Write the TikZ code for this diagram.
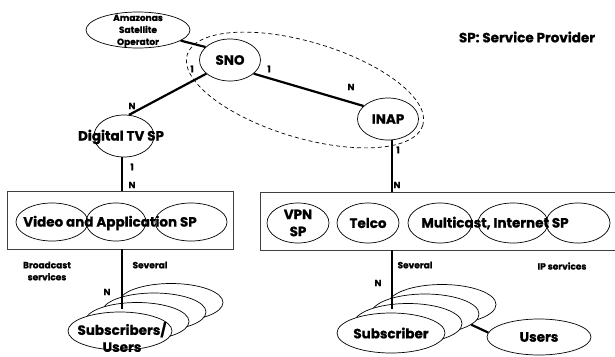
\documentclass[tikz,border=0pt]{standalone}
\usepackage{fontspec}
\newfontfamily\fut{Poppins}[BoldFeatures={FakeBold=0.8}]
\usetikzlibrary{shapes.geometric}
\tikzset{
  big/.style={font=\fut\bfseries\fontsize{13.5}{17}\selectfont, inner sep=0pt},
  small/.style={font=\fut\bfseries\fontsize{9}{12}\selectfont, inner sep=0pt},
  oval/.style={ellipse, draw, line width=0.7pt, inner sep=0pt, fill=white},
  thickline/.style={line width=2.2pt},
  boxline/.style={draw=black!75, line width=1pt},
}
\begin{document}
\begin{tikzpicture}[x=1pt,y=-1pt]
\useasboundingbox (0,0) rectangle (615,356);
% dashed grouping ellipse
\draw[dash pattern=on 4pt off 3pt, line width=0.7pt, rotate around={-16.6:(305,90)}] (305,90) ellipse [x radius=123, y radius=48];
% top nodes
\node[oval, minimum width=104, minimum height=36] (ama) at (138,30) {};
\node[small, align=center] (amat) at (138,31) {Amazonas\\Satellite\\Operator};
\node[oval, minimum width=61, minimum height=42] (sno) at (230,60) {};
\node[big] (snot) at (sno.center) {SNO};
\node[oval, minimum width=61, minimum height=42] (inap) at (388,119) {};
\node[big] (inapt) at (inap.center) {INAP};
\node[oval, minimum width=60, minimum height=42] (dtv) at (124,136) {};
\node[big] (dtvt) at (121,137) {Digital TV SP};
\node[big] (sp) at (527,37) {SP: Service Provider};
% connectors at top
\draw[thickline] (ama.346) -- (sno.152);
\draw[thickline] (sno.210) -- (dtv.77);
\draw[thickline] (sno.330) -- (inap.152);
\node[small] (l1) at (192,69) {1};
\node[small] (l2) at (132,106) {N};
\node[small] (l3) at (269,69) {1};
\node[small] (l4) at (351,87) {N};
% left box
\draw[boxline] (7,191) rectangle (233,249);
\coordinate (lboxtop) at (122,191);
\coordinate (lboxbot) at (122,249);
\node[oval, minimum width=72, minimum height=38, fill=none] (v1) at (52,222) {};
\node[oval, minimum width=60, minimum height=38, fill=none] (v2) at (116,222) {};
\node[oval, minimum width=72, minimum height=38, fill=none] (v3) at (191,222) {};
\node[big] (vt) at (110,223) {Video and Application SP};
% right box (open on the right)
\draw[boxline] (615,192) -- (260,192) -- (260,250) -- (615,250);
\coordinate (rboxtop) at (392,192);
\coordinate (rboxbot) at (392,250);
\node[oval, minimum width=62, minimum height=40, fill=none] (vpn) at (298,223) {};
\node[big, align=center] (vpnt) at (vpn.center) {VPN\\SP};
\node[oval, minimum width=62, minimum height=40, fill=none] (telco) at (368,223) {};
\node[big] (telcot) at (telco.center) {Telco};
\node[oval, minimum width=64, minimum height=40, fill=none] (m1) at (440,223) {};
\node[oval, minimum width=70, minimum height=40, fill=none] (m2) at (513,223) {};
\node[oval, minimum width=64, minimum height=40, fill=none] (m3) at (578,223) {};
\node[big] (mt) at (495,223) {Multicast, Internet SP};
% vertical connectors
\draw[thickline] (dtv.south -| lboxtop) -- (lboxtop);
\draw[thickline] (inap.south -| rboxtop) -- (rboxtop);
\node[small] (l5) at (132,167) {1};
\node[small] (l6) at (132,185) {N};
\node[small] (l7) at (398,150) {1};
\node[small] (l8) at (397,185) {N};
% left subscriber stack
\foreach \k in {3,2,1} {
  \node[oval, minimum width=104, minimum height=38] (ls\k) at ({120+17*\k},{331-9.5*\k}) {};
}
\node[oval, minimum width=104, minimum height=38] (ls0) at (120,331) {};
\coordinate (lend) at (122,309);
\draw[thickline] (lboxbot) -- (lend);
\node[big, align=center] (lst) at (122,337) {Subscribers/\\Users};
\node[small] (sev1) at (150,265) {Several};
\node[small] (n1) at (107,292) {N};
\node[small, align=center] (bc) at (47,271) {Broadcast\\services};
% right subscriber stack
\foreach \k in {3,2,1} {
  \node[oval, minimum width=108, minimum height=40] (rs\k) at ({391+17*\k},{333-9.5*\k}) {};
}
\node[oval, minimum width=108, minimum height=40] (rs0) at (391,333) {};
\coordinate (rend) at (392,309);
\draw[thickline] (rboxbot) -- (rend);
\node[big] (rst) at (rs0.center) {Subscriber};
\node[oval, minimum width=104, minimum height=36] (users) at (539,337) {};
\node[big] (userst) at (users.center) {Users};
\draw[thickline] (rs2.347) -- (users.175);
\node[small] (sev2) at (415,265) {Several};
\node[small] (n2) at (378,283) {N};
\node[small] (ip) at (562,266) {IP services};
\end{tikzpicture}
\end{document}
